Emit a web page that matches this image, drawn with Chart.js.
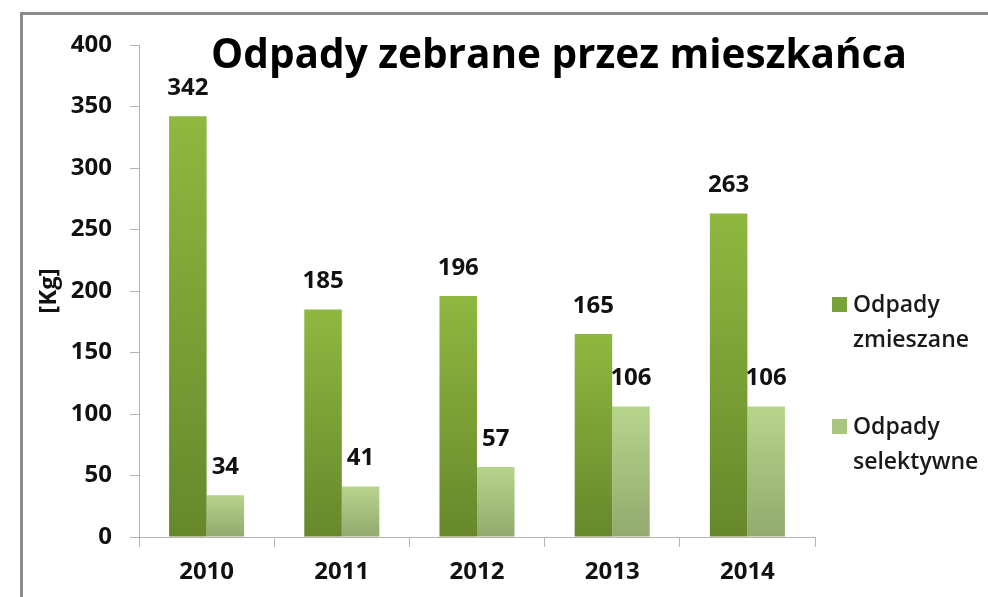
<!DOCTYPE html>
<html><head><meta charset="utf-8">
<script src="https://cdn.jsdelivr.net/npm/chart.js@4.4.0/dist/chart.umd.min.js"></script>
<style>
html,body{margin:0;padding:0;background:#fff;}
#wrap{position:relative;width:988px;height:597px;overflow:hidden;background:#fff;}
#frame{position:absolute;left:20px;top:12px;width:2000px;height:2000px;border-left:3px solid #8c8c8c;border-top:3px solid #8c8c8c;}
canvas{position:absolute;left:0;top:0;}
</style></head><body>
<div id="wrap"><div id="frame"></div><canvas id="c" width="988" height="597"></canvas></div>
<script>
const categories = ['2010', '2011', '2012', '2013', '2014'];
const mixedWaste = [342, 185, 196, 165, 263];
const selectiveWaste = [34, 41, 57, 106, 106];
const seriesNames = ['Odpady zmieszane', 'Odpady selektywne'];
const yTicks = [0, 50, 100, 150, 200, 250, 300, 350, 400];
const chartTitle = 'Odpady zebrane przez mieszkańca';
const yAxisTitle = '[Kg]';

const FONT = "'Open Sans', 'DejaVu Sans', sans-serif";
const AXIS_COLOR = '#b4b4b4';

function barGradient(top, bottom) {
  return (ctx) => {
    const ch = ctx.chart;
    const ys = ch.scales && ch.scales.y;
    if (!ch.chartArea || !ys || ctx.raw === undefined) return bottom;
    const y0 = ys.getPixelForValue(ctx.raw);
    const y1 = ys.getPixelForValue(0);
    if (!isFinite(y0) || !isFinite(y1) || y0 === y1) return bottom;
    const g = ch.ctx.createLinearGradient(0, y0, 0, y1);
    g.addColorStop(0, top);
    g.addColorStop(1, bottom);
    return g;
  };
}

const legendColors = ['#7ba23a', '#a9c580'];

const labelPlugin = {
  id: 'valueLabels',
  afterDatasetsDraw(chart) {
    const c = chart.ctx;
    c.save();
    c.font = "bold 24px " + FONT;
    c.fillStyle = '#111';
    c.textAlign = 'center';
    c.textBaseline = 'middle';
    chart.data.datasets.forEach((ds, i) => {
      const meta = chart.getDatasetMeta(i);
      meta.data.forEach((bar, j) => {
        c.fillText(String(ds.data[j]), bar.x, bar.y - 28);
      });
    });
    c.restore();
  }
};

const titleLegendPlugin = {
  id: 'titleLegend',
  afterDraw(chart) {
    const c = chart.ctx;
    c.save();
    c.font = "bold 40.5px " + FONT;
    c.fillStyle = '#000';
    c.textAlign = 'center';
    c.textBaseline = 'alphabetic';
    c.fillText(chartTitle, 559, 68);
    c.font = "600 23px " + FONT;
    c.textAlign = 'left';
    c.textBaseline = 'middle';
    const tops = [305, 427];
    chart.data.datasets.forEach((ds, i) => {
      const y = tops[i];
      c.fillStyle = legendColors[i];
      c.fillRect(832, y - 8, 15, 15);
      c.fillStyle = '#1a1a1a';
      const words = ds.label.split(' ');
      words.forEach((w, k) => c.fillText(w, 853, y + k * 35));
    });
    c.restore();
  }
};

new Chart(document.getElementById('c'), {
  type: 'bar',
  data: {
    labels: categories,
    datasets: [
      {
        label: seriesNames[0],
        data: mixedWaste,
        backgroundColor: barGradient('#8fb840', '#66882b'),
        borderWidth: 0,
        barPercentage: 1.0,
        categoryPercentage: 0.555
      },
      {
        label: seriesNames[1],
        data: selectiveWaste,
        backgroundColor: barGradient('#b7d48c', '#92aa6e'),
        borderWidth: 0,
        barPercentage: 1.0,
        categoryPercentage: 0.555
      }
    ]
  },
  options: {
    responsive: false,
    animation: false,
    devicePixelRatio: 1,
    layout: { padding: { left: 30, right: 173, top: 45, bottom: 0 } },
    plugins: {
      legend: { display: false },
      title: { display: false },
      tooltip: { enabled: false }
    },
    scales: {
      x: {
        grid: { display: true, drawOnChartArea: false, drawTicks: true, tickLength: 10, color: AXIS_COLOR, offset: true },
        border: { display: true, color: AXIS_COLOR, width: 1 },
        ticks: { font: { family: FONT, size: 24, weight: 'bold' }, color: '#111', padding: 11, maxRotation: 0 },
        afterFit: (s) => { s.height = 60; }
      },
      y: {
        min: 0,
        max: 400,
        afterBuildTicks: (s) => { s.ticks = yTicks.map(v => ({ value: v })); },
        grid: { display: true, drawOnChartArea: false, drawTicks: true, tickLength: 9, color: AXIS_COLOR },
        border: { display: true, color: AXIS_COLOR, width: 1 },
        ticks: { font: { family: FONT, size: 24, weight: 'bold' }, color: '#111', padding: 18 },
        title: { display: true, text: yAxisTitle, font: { family: FONT, size: 24, weight: 'bold' }, color: '#111', padding: { top: 5, bottom: 0 } },
        afterFit: (s) => { s.width = 109; }
      }
    }
  },
  plugins: [labelPlugin, titleLegendPlugin]
});
</script>
</body></html>
